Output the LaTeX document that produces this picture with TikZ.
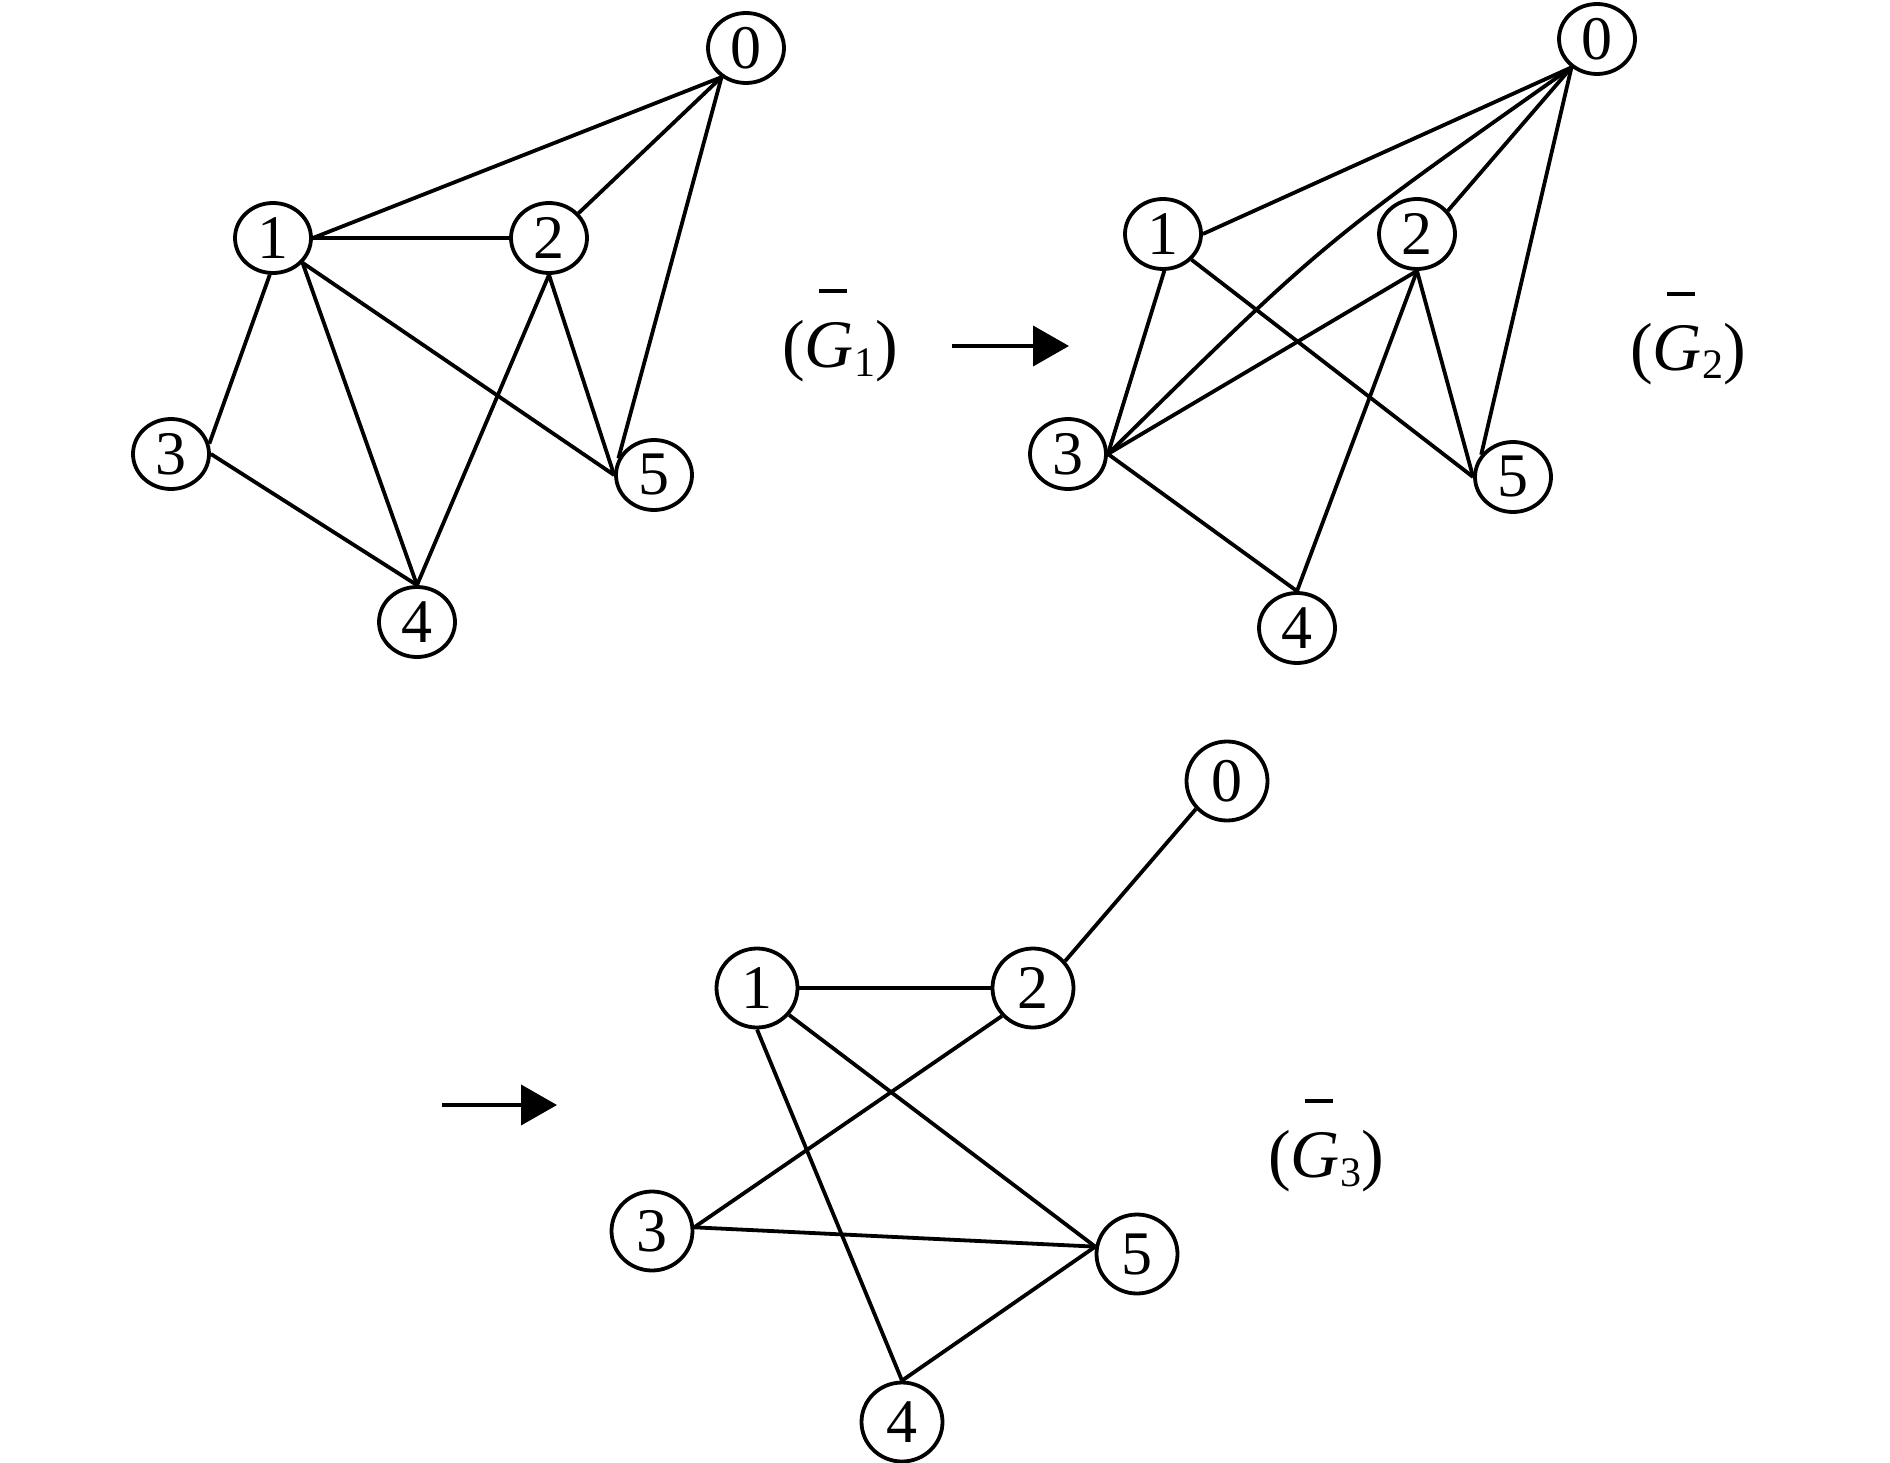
\documentclass[tikz,border=0pt]{standalone}
\usepackage{fontspec}
\setmainfont{Liberation Serif}
\usetikzlibrary{shapes.geometric,arrows.meta}
\newcommand{\glab}[1]{(\rlap{\hspace{14pt}\rule[74pt]{28pt}{4pt}}\textit{G}\raisebox{-9pt}{\fontsize{42}{42}\selectfont #1})}
\begin{document}
\begin{tikzpicture}[x=1pt,y=-1pt,
  vtx/.style={draw, ellipse, line width=3.8pt, minimum width=76pt, minimum height=70pt, inner sep=0pt, font=\fontsize{62}{62}\selectfont},
  vtxb/.style={vtx, minimum width=81pt, minimum height=79pt},
  edge/.style={line width=3.8pt},
  lab/.style={anchor=base, inner sep=0pt, font=\fontsize{68}{68}\selectfont},
  arr/.style={line width=4pt, -{Triangle[length=36pt,width=40pt]}}]
\useasboundingbox (0,0) rectangle (1890,1463);
% graph 1
\node[vtx] (a0) at (746,48) {0};
\node[vtx] (a1) at (273,238) {1};
\node[vtx] (a2) at (549,238) {2};
\node[vtx] (a3) at (171,454) {3};
\node[vtx] (a4) at (417,622) {4};
\node[vtx] (a5) at (654,475) {5};
\draw[edge] (a0.230) -- (a1.east);
\draw[edge] (a0.230) -- (a2.40);
\draw[edge] (a0.230) -- (a5.155);
\draw[edge] (a1.east) -- (a2.west);
\draw[edge] (a1.-95) -- (a3.15);
\draw[edge] (a1.-40) -- (a4.north);
\draw[edge] (a1.-40) -- (a5.west);
\draw[edge] (a2.south) -- (a4.north);
\draw[edge] (a2.south) -- (a5.west);
\draw[edge] (a3.east) -- (a4.north);
\node[lab] (g1) at (840,367) {\glab{1}};
\coordinate (p1) at (952,346);
\coordinate (q1) at (1069,346);
\draw[arr] (p1) -- (q1);
% graph 2
\node[vtx] (b0) at (1597,39) {0};
\node[vtx] (b1) at (1163,234) {1};
\node[vtx] (b2) at (1417,234) {2};
\node[vtx] (b3) at (1068,454) {3};
\node[vtx] (b4) at (1297,628) {4};
\node[vtx] (b5) at (1513,477) {5};
\coordinate (k03) at (1322,243);
\draw[edge] (b0.228) -- (b1.east);
\draw[edge] (b0.228) -- (b2.37);
\draw[edge] (b0.228) .. controls (k03) .. (b3.east);
\draw[edge] (b0.228) -- (b5.145);
\draw[edge] (b1.-88) -- (b3.east);
\draw[edge] (b1.-42) -- (b5.west);
\draw[edge] (b2.south) -- (b3.east);
\draw[edge] (b2.south) -- (b4.north);
\draw[edge] (b2.south) -- (b5.west);
\draw[edge] (b3.east) -- (b4.north);
\node[lab] (g2) at (1688,370) {\glab{2}};
% graph 3
\coordinate (p3) at (442,1105);
\coordinate (q3) at (557,1105);
\draw[arr] (p3) -- (q3);
\node[vtxb] (c0) at (1227,781) {0};
\node[vtxb] (c1) at (757,988) {1};
\node[vtxb] (c2) at (1033,988) {2};
\node[vtxb] (c3) at (652,1231) {3};
\node[vtxb] (c4) at (902,1422) {4};
\node[vtxb] (c5) at (1137,1254) {5};
\draw[edge] (c0.222) -- (c2.40);
\draw[edge] (c1.east) -- (c2.west);
\draw[edge] (c1.-40) -- (c5.170);
\draw[edge] (c1.south) -- (c4.north);
\draw[edge] (c2.222) -- (c3.5);
\draw[edge] (c3.5) -- (c5.170);
\draw[edge] (c4.north) -- (c5.170);
\node[lab] (g3) at (1326,1177) {\glab{3}};
\end{tikzpicture}
\end{document}
